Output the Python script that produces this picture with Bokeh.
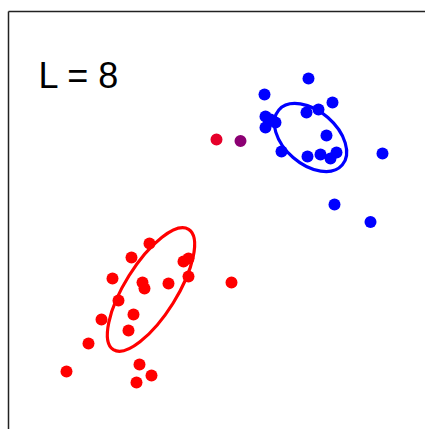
import math
from bokeh.plotting import figure
from bokeh.models import Range1d, LinearAxis, FixedTicker, Label, ColumnDataSource
from bokeh.embed import file_html
from bokeh.resources import INLINE

# ---- data (y axis points up) ----
blue_x = [308, 264, 332, 306, 318, 265, 270, 275, 265, 326, 281, 307, 320, 330, 336, 382, 334, 370]
blue_y = [359, 343, 335, 325, 328, 321, 318, 315, 310, 302, 286, 281, 283, 279, 285, 284, 233, 215.5]

red_x = [149, 131, 183, 188, 112, 142, 144, 168, 188, 231, 118, 133, 101, 128, 88, 66, 139, 151, 136]
red_y = [194, 180, 176, 179, 159, 155, 149, 154, 161, 155, 137, 123, 118, 107, 94, 66, 73, 62, 55]

mixed_x = [216, 240]
mixed_y = [298, 296.5]
mixed_colors = ["#e6002a", "#8c0073"]

ell_x = [150.5, 310]
ell_y = [148, 300]
ell_w = [142, 84]
ell_h = [52, 53]
ell_angle_deg = [58, -41]
ell_colors = ["#ff0000", "#0000ff"]

label_text = "L = 8"

W, H = 425, 429
p = figure(width=W, height=H, output_backend="svg", toolbar_location=None,
           x_axis_location=None, y_axis_location=None,
           x_range=Range1d(8, 425), y_range=Range1d(8, 426),
           min_border_left=8, min_border_top=11, min_border_right=0, min_border_bottom=0)
p.xgrid.visible = False
p.ygrid.visible = False
p.outline_line_color = None
p.background_fill_color = "white"
p.border_fill_color = "white"

for loc in ("left", "above"):
    ax = LinearAxis(ticker=FixedTicker(ticks=[]), major_tick_in=0, major_tick_out=0,
                    minor_tick_in=0, minor_tick_out=0, major_label_text_font_size="0px",
                    major_label_standoff=0, axis_line_color="#222222", axis_line_width=1.5)
    p.add_layout(ax, loc)

ell_src = ColumnDataSource(dict(x=ell_x, y=ell_y, w=ell_w, h=ell_h,
                                a=[math.radians(d) for d in ell_angle_deg], c=ell_colors))
p.ellipse(x="x", y="y", width="w", height="h", angle="a", source=ell_src,
          fill_color=None, line_color="c", line_width=3.2)

p.scatter(blue_x, blue_y, size=12, color="#0000ff", line_color=None)
p.scatter(red_x, red_y, size=12, color="#ff0000", line_color=None)
p.scatter(mixed_x, mixed_y, size=12, color=mixed_colors, line_color=None)

p.add_layout(Label(x=38, y=362.4, text=label_text, text_font="Liberation Sans",
                   text_font_size="36px", text_color="black", text_baseline="middle"))

open("out.html", "w").write(file_html(p, INLINE))
